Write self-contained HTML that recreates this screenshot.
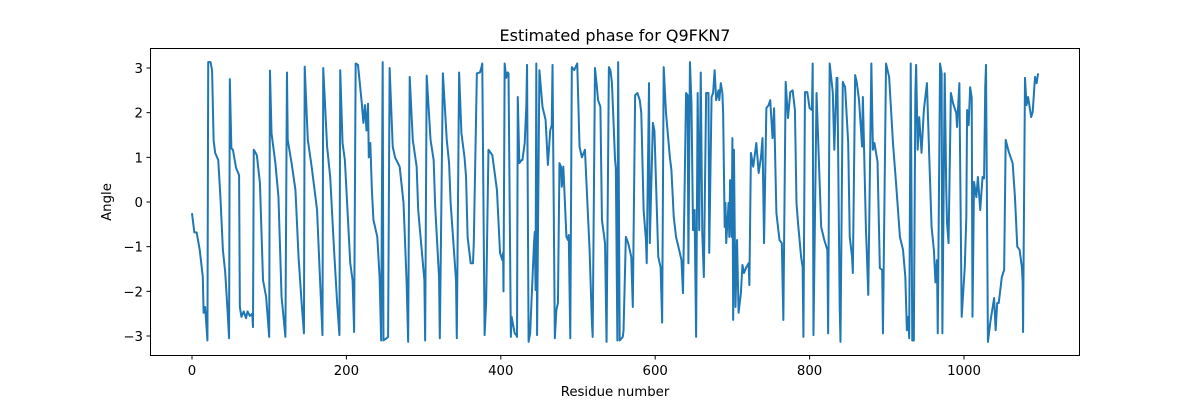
<!DOCTYPE html>
<html><head><meta charset="utf-8"><style>
body{margin:0;background:#fff;}
svg{display:block;font-family:"DejaVu Sans","Liberation Sans",sans-serif;}
</style></head><body>
<svg id="chart" width="1200" height="400" viewBox="0 0 1200 400">
<rect width="1200" height="400" fill="#fff"/>
<text x="615" y="41" text-anchor="middle" font-size="16" fill="#000">Estimated phase for Q9FKN7</text>
<text x="615" y="396" text-anchor="middle" font-size="13.3" fill="#000">Residue number</text>
<text x="111" y="202" text-anchor="middle" font-size="13.3" fill="#000" transform="rotate(-90 111 202)">Angle</text>
<g id="ticks"></g>
<path id="series" fill="none" stroke="#1f77b4" stroke-width="2" stroke-linejoin="round"/>
<rect x="150.5" y="48.5" width="929" height="307" fill="none" stroke="#000" stroke-width="1"/>
</svg>
<script>
const residues=[0,3,6,10,14,15,17,20,21,24,26,28,30,34,37,40,43,46,48,49,51,53,57,61,62,64,67,70,72,75,78,79,80,84,88,92,96,100,101,103,108,112,116,121,123,124,129,134,138,142,145,146,150,155,162,166,169,170,175,179,184,188,191,192,195,198,205,208,210,212,215,220,222,224,226,228,229,231,233,235,240,243,245,247,248,252,254,256,260,263,269,274,278,280,282,286,291,293,301,302,304,309,313,315,320,321,325,330,333,335,342,343,346,349,353,355,357,361,364,365,369,373,375,376,379,381,384,389,391,395,399,402,403,403.5,405,407,409,410,413,414,418,420,421,422,424,427,428,431,433,434,436,438,443,444,445,446,447,450,454,458,461,464,466,467,470,472,474,476,478,479,481,485,487,488,490,492,493,495,499,502,505,509,513,515,518,519,522,524,526,529,531,535,537,540,542,544,548,549,551,552,554,558,559,562,565,567,569,571,574,577,580,582,585,588,589,592,593,597,599,604,607,609,611,614,619,621,624,627,631,634,636,640,642,643,645,647,649,651,653,655,657,659,661,663,666,669,670,673,675,677,679,682,683,685,687,688,690,691,692,695,696,697,699,700,701,702,704,706,708,711,713,715,718,721,722,724,727,731,734,737,739,741,744,747,749,752,754,757,761,764,766,769,772,775,778,781,783,785,789,791,792,794,797,800,803,804,805,809,812,815,819,823,824,826,830,832,835,836,839,840,843,846,850,852,855,856,859,861,864,868,869,873,874,876,880,882,884,888,891,894,895,899,903,908,912,917,921,924,926,928,929,931,933,935,937,938,940,942,945,948,952,955,958,961,963,965,966,969,971,972,975,977,978,980,983,986,990,991,994,997,1001,1003,1004,1006,1008,1010,1011,1013,1016,1018,1021,1024,1026,1027.5,1028.5,1031,1034,1036,1039,1041,1043,1045,1049,1052,1054,1058,1063,1066,1069,1072,1075,1076,1076.5,1079,1081,1083,1085,1087,1089,1092,1094,1096];
const angles=[-0.25,-0.68,-0.68,-1.07,-1.68,-2.48,-2.35,-3.1,3.13,3.13,2.95,1.38,1.1,0.94,0.05,-1.07,-1.57,-2.42,-3.05,2.75,1.2,1.17,0.77,0.6,-2.35,-2.57,-2.45,-2.6,-2.45,-2.55,-2.5,-2.8,1.17,1.05,0.42,-1.75,-2.12,-3.02,2.94,1.54,0.87,0.11,-2.12,-3.02,2.9,1.39,0.87,0.27,-1.23,-2.26,-2.94,3.03,1.39,0.79,-0.18,-1.8,-2.98,3.0,1.24,0.56,-1.07,-2.26,-2.98,2.95,1.32,0.94,-1.37,-1.75,-2.91,3.1,3.07,2.2,1.77,2.17,1.6,2.2,1.0,1.32,0.27,-0.4,-0.78,-1.68,-3.1,3.13,-3.1,-3.05,-3.02,3.0,1.24,1.0,0.79,-0.02,-1.8,-3.13,2.8,1.39,0.79,-0.18,-1.75,-3.1,2.83,1.39,0.94,-0.1,-1.68,-3.05,2.88,1.39,0.87,-0.02,-1.75,-3.05,2.9,1.54,1.0,0.56,-0.78,-1.37,-1.37,-0.92,2.88,2.9,3.02,3.1,-2.98,-2.26,1.17,1.05,0.79,0.27,-1.14,-1.3,-1.14,-2.0,3.1,2.78,2.9,2.88,-3.02,-2.57,-2.94,-2.98,-3.02,2.35,0.87,0.94,0.94,1.32,2.13,3.07,-3.13,-2.94,-0.92,-0.67,-1.97,3.1,-2.98,2.95,2.13,1.84,0.83,1.6,1.72,3.07,-3.05,-2.42,-2.26,0.87,0.79,0.34,0.79,-0.78,-0.85,-0.74,-3.05,3.02,3.0,2.95,3.1,1.24,1.0,1.17,-0.33,-1.07,-2.7,-3.02,3.0,2.66,2.28,2.13,-0.4,-0.92,-3.13,3.02,2.95,2.66,0.94,0.76,-3.1,3.13,-3.1,-3.02,-2.87,-0.78,-0.92,-1.07,-1.23,-2.35,2.39,2.44,2.28,1.99,-0.18,-0.85,-1.37,2.66,-0.92,1.77,1.6,-1.23,-1.46,-2.7,3.02,1.99,1.0,0.72,-0.33,-0.78,-1.07,-1.3,-2.04,2.44,2.39,-1.37,3.13,2.2,-0.63,-0.18,-3.02,2.44,-0.63,2.9,-0.7,-1.68,2.44,2.44,-1.14,2.35,2.44,2.95,2.28,2.5,2.28,2.66,2.44,1.99,-0.56,-0.02,-0.92,-0.02,-0.78,0.49,-0.78,1.43,-2.64,1.17,-2.35,-0.85,-2.48,-2.04,-1.41,-1.59,-1.46,-1.37,-1.86,1.1,0.79,1.32,0.65,1.0,1.43,-0.92,2.1,2.17,2.28,1.43,2.1,-0.25,-0.85,-0.92,-2.64,2.69,1.88,2.46,2.5,2.06,-0.02,-0.47,-1.23,-1.46,-3.02,2.46,2.46,2.1,2.06,3.1,-2.98,2.44,0.94,-0.56,-0.85,-1.07,-2.94,3.1,2.46,1.17,2.78,2.78,-2.35,-3.13,2.69,2.57,1.32,-0.78,-1.23,-1.59,2.84,2.69,2.28,1.24,2.35,-0.63,-1.07,-2.08,3.1,1.17,1.32,0.9,-1.48,-1.52,-2.94,3.1,2.8,1.32,0.42,-0.78,-1.07,-1.68,-2.87,-2.57,-3.05,3.1,-3.1,-3.1,2.44,3.07,1.17,1.9,1.1,2.06,2.66,1.0,-0.56,-1.07,-1.8,-1.3,-2.94,3.1,2.88,-2.94,2.88,0.27,-0.47,-0.92,2.44,2.2,1.99,1.68,2.66,-2.57,-1.46,-0.33,2.06,1.72,2.57,2.33,-2.57,0.45,0.11,0.56,-0.18,0.56,0.53,2.57,3.07,-3.13,-2.7,-2.48,-2.15,-2.87,-2.26,-2.26,-1.68,-1.52,1.39,1.12,0.87,0.11,-1.0,-1.07,-1.46,-1.8,-2.91,2.78,2.17,2.35,2.13,1.9,2.02,2.8,2.66,2.88,3.0];
const xTicks=[0,200,400,600,800,1000];
const yTicks=[-3,-2,-1,0,1,2,3];
const X=r=>192+r*0.772;
const Y=a=>202-a*44.67;
const ns='http://www.w3.org/2000/svg';
const tg=document.getElementById('ticks');
xTicks.forEach(t=>{
  const l=document.createElementNS(ns,'line');
  l.setAttribute('x1',X(t));l.setAttribute('x2',X(t));l.setAttribute('y1',356);l.setAttribute('y2',359.5);l.setAttribute('stroke','#000');
  
  
  tg.appendChild(l);
  const tx=document.createElementNS(ns,'text');
  tx.setAttribute('x',X(t));tx.setAttribute('y',375);tx.setAttribute('text-anchor','middle');tx.setAttribute('font-size','13.3');
  tx.textContent=t;
  
  
  tg.appendChild(tx);
});
yTicks.forEach(t=>{
  const l=document.createElementNS(ns,'line');
  l.setAttribute('x1',146.5);l.setAttribute('x2',150);l.setAttribute('y1',Y(t));l.setAttribute('y2',Y(t));l.setAttribute('stroke','#000');
  
  
  tg.appendChild(l);
  const tx=document.createElementNS(ns,'text');
  tx.setAttribute('x',143);tx.setAttribute('y',Y(t)+5);tx.setAttribute('text-anchor','end');tx.setAttribute('font-size','13.3');
  tx.textContent=t<0?'\u2212'+Math.abs(t):String(t);
  
  
  tg.appendChild(tx);
});
let d='';
const n=Math.min(residues.length,angles.length);
for(let i=0;i<n;i++){d+=(i?'L':'M')+X(residues[i]).toFixed(2)+' '+Y(angles[i]).toFixed(2);}
document.getElementById('series').setAttribute('d',d);
</script>
</body></html>
